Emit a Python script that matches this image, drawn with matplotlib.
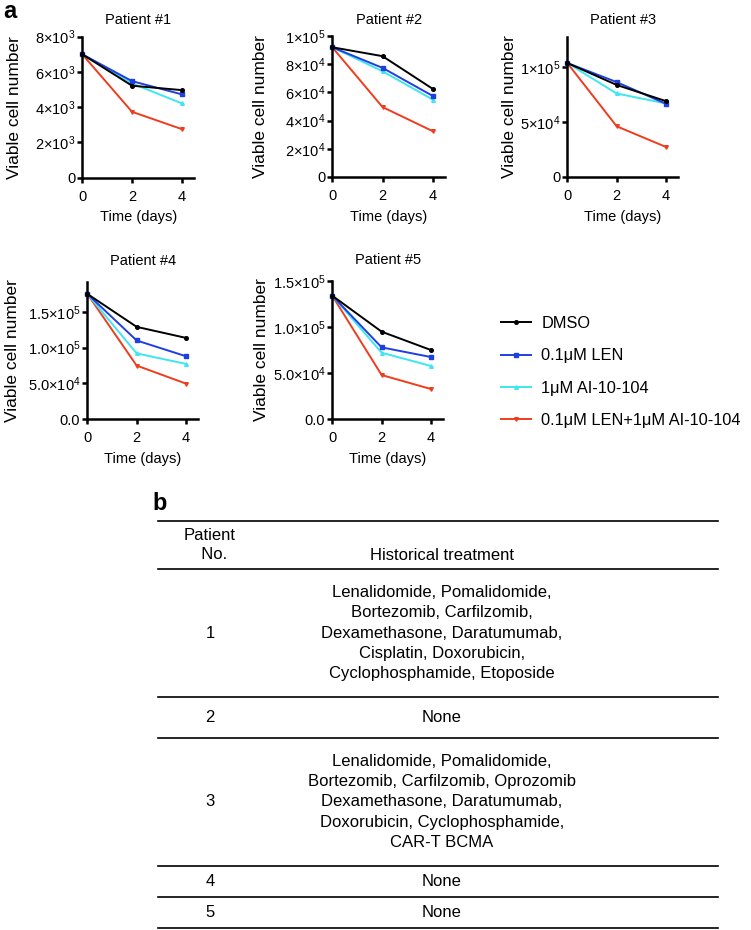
import matplotlib
matplotlib.use("Agg")
import matplotlib.pyplot as plt
from matplotlib.lines import Line2D

plt.rcParams['font.family'] = ['Liberation Sans', 'DejaVu Sans']
plt.rcParams['mathtext.fontset'] = 'custom'
plt.rcParams['mathtext.rm'] = 'Liberation Sans'
plt.rcParams['mathtext.it'] = 'Liberation Sans:italic'
plt.rcParams['mathtext.bf'] = 'Liberation Sans:bold'

# Données
days = [0, 2, 4]
treatments = ["DMSO", "0.1μM LEN", "1μM AI-10-104", "0.1μM LEN+1μM AI-10-104"]
colors = ["#000000", "#1f3fe0", "#3de6f2", "#f03c1e"]
markers = ["o", "s", "^", "v"]

p1 = [[7.0e3, 5.22e3, 4.97e3], [7.0e3, 5.48e3, 4.73e3], [7.0e3, 5.35e3, 4.22e3], [7.0e3, 3.74e3, 2.76e3]]
p2 = [[9.2e4, 8.57e4, 6.25e4], [9.2e4, 7.74e4, 5.75e4], [9.2e4, 7.5e4, 5.49e4], [9.2e4, 4.96e4, 3.25e4]]
p3 = [[1.04e5, 8.4e4, 6.92e4], [1.04e5, 8.66e4, 6.68e4], [1.04e5, 7.62e4, 6.71e4], [1.04e5, 4.63e4, 2.74e4]]
p4 = [[1.75e5, 1.29e5, 1.136e5], [1.75e5, 1.10e5, 8.8e4], [1.75e5, 9.2e4, 7.73e4], [1.75e5, 7.5e4, 4.98e4]]
p5 = [[1.337e5, 9.47e4, 7.48e4], [1.337e5, 7.77e4, 6.72e4], [1.337e5, 7.19e4, 5.75e4], [1.337e5, 4.77e4, 3.25e4]]
patients = [p1, p2, p3, p4, p5]
titles = ["Patient #1", "Patient #2", "Patient #3", "Patient #4", "Patient #5"]

yticks = [[0, 2e3, 4e3, 6e3, 8e3], [0, 2e4, 4e4, 6e4, 8e4, 1e5], [0, 5e4, 1e5],
          [0, 5e4, 1e5, 1.5e5], [0, 5e4, 1e5, 1.5e5]]
yticklabels = [["0", r"$2{\times}10^3$", r"$4{\times}10^3$", r"$6{\times}10^3$", r"$8{\times}10^3$"],
               ["0", r"$2{\times}10^4$", r"$4{\times}10^4$", r"$6{\times}10^4$", r"$8{\times}10^4$", r"$1{\times}10^5$"],
               ["0", r"$5{\times}10^4$", r"$1{\times}10^5$"],
               ["0.0", r"$5.0{\times}10^4$", r"$1.0{\times}10^5$", r"$1.5{\times}10^5$"],
               ["0.0", r"$5.0{\times}10^4$", r"$1.0{\times}10^5$", r"$1.5{\times}10^5$"]]
ymax = [8e3, 1e5, 1.28e5, 1.92e5, 1.5e5]

patient_no = ["1", "2", "3", "4", "5"]
history = ["Lenalidomide, Pomalidomide,\nBortezomib, Carfilzomib,\nDexamethasone, Daratumumab,\nCisplatin, Doxorubicin,\nCyclophosphamide, Etoposide",
           "None",
           "Lenalidomide, Pomalidomide,\nBortezomib, Carfilzomib, Oprozomib\nDexamethasone, Daratumumab,\nDoxorubicin, Cyclophosphamide,\nCAR-T BCMA",
           "None",
           "None"]

W, H = 751, 930
fig = plt.figure(figsize=(W / 100, H / 100), dpi=100)


def rect(left, top, bottom, width):
    return [left / W, 1 - bottom / H, width / W, (bottom - top) / H]


# position des axes en pixels : gauche, haut, bas, largeur, label y, pad du titre
boxes = [(82.3, 36.7, 177.7, 111.8, -0.54, 9), (332.3, 36.0, 177.0, 113.0, -0.57, 9),
         (567.3, 36.7, 177.0, 111.0, -0.45, 9), (87.3, 281.7, 419.3, 111.0, -0.61, 12),
         (332.3, 280.7, 419.0, 111.0, -0.57, 12)]

handles = []
for i, data in enumerate(patients):
    l, t, b, w, lx, tp = boxes[i]
    ax = fig.add_axes(rect(l, t, b, w))
    for k in [3, 2, 1, 0]:
        h, = ax.plot(days, data[k], color=colors[k], marker=markers[k], markersize=2.6,
                     lw=1.4, label=treatments[k], clip_on=False)
        if i == 0:
            handles.insert(0, h)
    ax.set_xlim(0, 4.5)
    ax.set_ylim(0, ymax[i])
    ax.set_xticks([0, 2, 4])
    ax.set_yticks(yticks[i])
    ax.set_yticklabels(yticklabels[i])
    for s in ["top", "right"]:
        ax.spines[s].set_visible(False)
    for s in ["left", "bottom"]:
        ax.spines[s].set_linewidth(1.8)
    ax.tick_params(width=1.8, length=3.5, labelsize=10.5, pad=1.5)
    ax.tick_params(axis="x", pad=5)
    ax.set_title(titles[i], fontsize=10.5, pad=tp)
    ax.set_xlabel("Time (days)", fontsize=10.5, labelpad=5)
    ax.set_ylabel("Viable cell number", fontsize=12.5)
    ax.yaxis.set_label_coords(lx, 0.5)

fig.legend(handles=handles, loc="upper left", bbox_to_anchor=(501 / W, 1 - 316 / H),
           frameon=False, fontsize=11.8, handlelength=1.85, handletextpad=0.6,
           labelspacing=1.06, borderpad=0, borderaxespad=0)

fig.text(3 / W, 1 - 12 / H, "a", fontsize=17, fontweight="bold", va="center")
fig.text(152 / W, 1 - 503 / H, "b", fontsize=17, fontweight="bold", va="center")

# tableau b
x0, x1 = 158, 718
col1, col2 = 210, 442


def hline(y, lw=1.2):
    fig.add_artist(Line2D([x0 / W, x1 / W], [1 - y / H, 1 - y / H], color="black", lw=lw))


hline(521)
fig.text(col1 / W, 1 - 545 / H, "Patient\n  No.", fontsize=12, ha="center", va="center", linespacing=1.3)
fig.text(col2 / W, 1 - 555 / H, "Historical treatment", fontsize=12, ha="center", va="center")
hline(569)

bounds = [569, 697, 738, 866, 897, 928]
for r in range(5):
    yc = (bounds[r] + bounds[r + 1]) / 2
    fig.text(col1 / W, 1 - yc / H, patient_no[r], fontsize=12, ha="center", va="center")
    fig.text(col2 / W, 1 - yc / H, history[r], fontsize=12, ha="center", va="center", linespacing=1.44)
    hline(bounds[r + 1])

fig.savefig("out.png", dpi=100)
